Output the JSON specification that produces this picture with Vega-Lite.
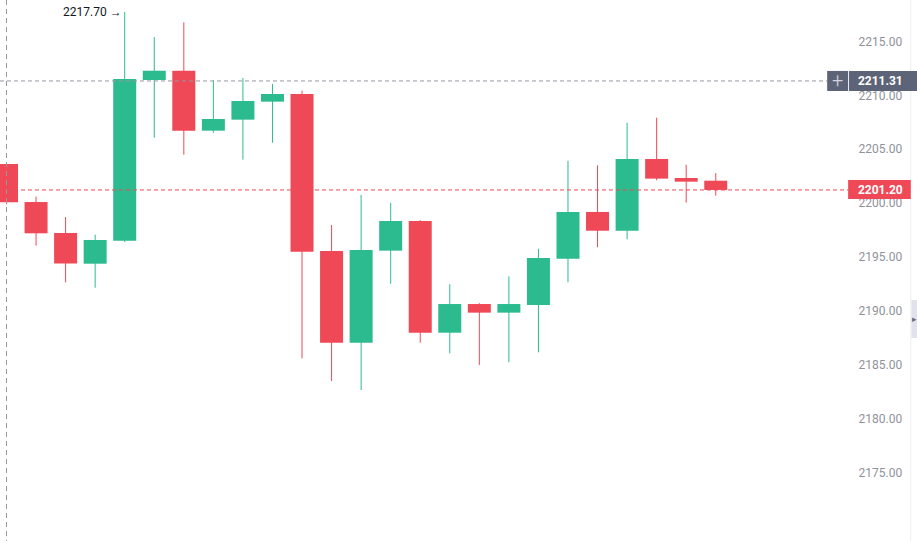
{
  "$schema": "https://vega.github.io/schema/vega-lite/v6.json",
  "width": 917,
  "height": 541,
  "autosize": {"type": "none"},
  "padding": 0,
  "background": "#ffffff",
  "config": {"view": {"stroke": null}, "font": "Roboto"},
  "datasets": {
    "candles": [
      {"idx": 0, "open": 2203.61, "high": 2203.7, "low": 2199.9, "close": 2200.06, "dir": "down"},
      {"idx": 1, "open": 2200.08, "high": 2200.58, "low": 2196.03, "close": 2197.18, "dir": "down"},
      {"idx": 2, "open": 2197.21, "high": 2198.69, "low": 2192.63, "close": 2194.38, "dir": "down"},
      {"idx": 3, "open": 2194.36, "high": 2197.05, "low": 2192.13, "close": 2196.56, "dir": "up"},
      {"idx": 4, "open": 2196.49, "high": 2217.7, "low": 2196.37, "close": 2211.49, "dir": "up"},
      {"idx": 5, "open": 2211.4, "high": 2215.39, "low": 2206.05, "close": 2212.26, "dir": "up"},
      {"idx": 6, "open": 2212.26, "high": 2216.75, "low": 2204.47, "close": 2206.7, "dir": "down"},
      {"idx": 7, "open": 2206.7, "high": 2211.37, "low": 2206.51, "close": 2207.78, "dir": "up"},
      {"idx": 8, "open": 2207.72, "high": 2211.59, "low": 2204.01, "close": 2209.45, "dir": "up"},
      {"idx": 9, "open": 2209.39, "high": 2211.03, "low": 2205.58, "close": 2210.1, "dir": "up"},
      {"idx": 10, "open": 2210.1, "high": 2210.41, "low": 2185.58, "close": 2195.47, "dir": "down"},
      {"idx": 11, "open": 2195.54, "high": 2197.95, "low": 2183.48, "close": 2187.03, "dir": "down"},
      {"idx": 12, "open": 2187.03, "high": 2200.73, "low": 2182.64, "close": 2195.63, "dir": "up"},
      {"idx": 13, "open": 2195.57, "high": 2199.99, "low": 2192.5, "close": 2198.32, "dir": "up"},
      {"idx": 14, "open": 2198.32, "high": 2198.4, "low": 2187.03, "close": 2187.96, "dir": "down"},
      {"idx": 15, "open": 2187.96, "high": 2192.45, "low": 2186.05, "close": 2190.62, "dir": "up"},
      {"idx": 16, "open": 2190.62, "high": 2190.7, "low": 2184.96, "close": 2189.82, "dir": "down"},
      {"idx": 17, "open": 2189.82, "high": 2193.19, "low": 2185.21, "close": 2190.62, "dir": "up"},
      {"idx": 18, "open": 2190.53, "high": 2195.75, "low": 2186.14, "close": 2194.89, "dir": "up"},
      {"idx": 19, "open": 2194.82, "high": 2203.91, "low": 2192.63, "close": 2199.16, "dir": "up"},
      {"idx": 20, "open": 2199.16, "high": 2203.49, "low": 2195.88, "close": 2197.42, "dir": "down"},
      {"idx": 21, "open": 2197.42, "high": 2207.44, "low": 2196.62, "close": 2204.07, "dir": "up"},
      {"idx": 22, "open": 2204.07, "high": 2207.9, "low": 2202.1, "close": 2202.25, "dir": "down"},
      {"idx": 23, "open": 2202.31, "high": 2203.54, "low": 2200.02, "close": 2201.97, "dir": "down"},
      {"idx": 24, "open": 2202.06, "high": 2202.77, "low": 2200.67, "close": 2201.2, "dir": "down"}
    ]
  },
  "resolve": {"scale": {"color": "independent"}},
  "layer": [
    {
      "data": {"values": [{"edge": 1}]},
      "mark": {"type": "rule", "color": "#eceef2", "strokeWidth": 1},
      "encoding": {
        "x": {"datum": 30.6, "type": "quantitative", "scale": {"domain": [-0.22, 30.81], "nice": false, "zero": false, "padding": 0}, "axis": null}
      }
    },
    {
      "data": {"values": [{"edge": 1}]},
      "mark": {"type": "rect", "color": "#e0e3eb"},
      "encoding": {
        "x": {"datum": 30.62, "type": "quantitative"},
        "x2": {"datum": 30.81},
        "y": {"datum": 2190.99, "type": "quantitative"},
        "y2": {"datum": 2187.47}
      }
    },
    {
      "data": {"name": "candles"},
      "mark": {"type": "rule", "strokeWidth": 1},
      "encoding": {
        "x": {"field": "idx", "type": "quantitative"},
        "y": {
          "field": "low", "type": "quantitative",
          "scale": {"domain": [2168.64, 2218.82], "nice": false, "zero": false, "padding": 0},
          "axis": {
            "orient": "right", "offset": -59, "title": null, "grid": false, "domain": false,
            "ticks": false, "tickSize": 0, "labelPadding": 0,
            "values": [2175, 2180, 2185, 2190, 2195, 2200, 2205, 2210, 2215],
            "format": ".2f", "labelFont": "Roboto", "labelFontSize": 12, "labelColor": "#8f929b"
          }
        },
        "y2": {"field": "high"},
        "color": {"field": "dir", "type": "nominal", "scale": {"domain": ["up", "down"], "range": ["#2cbb8e", "#ef4957"]}, "legend": null}
      }
    },
    {
      "data": {"name": "candles"},
      "mark": {"type": "bar", "width": 23},
      "encoding": {
        "x": {"field": "idx", "type": "quantitative"},
        "y": {"field": "open", "type": "quantitative"},
        "y2": {"field": "close"},
        "color": {"field": "dir", "type": "nominal", "scale": {"domain": ["up", "down"], "range": ["#2cbb8e", "#ef4957"]}, "legend": null}
      }
    },
    {
      "data": {"values": [{"idx": 0}]},
      "mark": {"type": "rule", "color": "#9598a1", "strokeWidth": 1, "strokeDash": [5, 4]},
      "encoding": {
        "x": {"field": "idx", "type": "quantitative"}
      }
    },
    {
      "data": {"values": [{"price": 2211.31, "label": "2211.31"}]},
      "layer": [
        {
          "mark": {"type": "rule", "color": "#9598a1", "strokeWidth": 1, "strokeDash": [4, 3]},
          "encoding": {
            "x": {"datum": -0.22, "type": "quantitative"},
            "x2": {"datum": 27.77},
            "y": {"field": "price", "type": "quantitative"}
          }
        },
        {
          "mark": {"type": "rect", "color": "#5d6478"},
          "encoding": {
            "x": {"datum": 27.77, "type": "quantitative"},
            "x2": {"datum": 28.48},
            "y": {"datum": 2212.24, "type": "quantitative"},
            "y2": {"datum": 2210.38}
          }
        },
        {
          "mark": {"type": "rect", "color": "#5d6478"},
          "encoding": {
            "x": {"datum": 28.51, "type": "quantitative"},
            "x2": {"datum": 30.81},
            "y": {"datum": 2212.24, "type": "quantitative"},
            "y2": {"datum": 2210.38}
          }
        },
        {
          "mark": {"type": "text", "text": "+", "color": "#d1d4dc", "fontSize": 20, "fontWeight": 300, "font": "Roboto", "align": "center", "baseline": "middle", "dy": 0},
          "encoding": {
            "x": {"datum": 28.125, "type": "quantitative"},
            "y": {"field": "price", "type": "quantitative"}
          }
        },
        {
          "mark": {"type": "text", "color": "#ffffff", "fontSize": 12, "fontWeight": "bold", "font": "Roboto", "align": "left", "baseline": "middle"},
          "encoding": {
            "x": {"datum": 28.81, "type": "quantitative"},
            "y": {"field": "price", "type": "quantitative"},
            "text": {"field": "label"}
          }
        }
      ]
    },
    {
      "data": {"values": [{"price": 2201.2, "label": "2201.20"}]},
      "layer": [
        {
          "mark": {"type": "rule", "color": "#ef4957", "strokeWidth": 1, "strokeDash": [4, 3]},
          "encoding": {
            "x": {"datum": -0.22, "type": "quantitative"},
            "x2": {"datum": 28.48},
            "y": {"field": "price", "type": "quantitative"}
          }
        },
        {
          "mark": {"type": "rect", "color": "#ef4957"},
          "encoding": {
            "x": {"datum": 28.48, "type": "quantitative"},
            "x2": {"datum": 30.6},
            "y": {"datum": 2202.12, "type": "quantitative"},
            "y2": {"datum": 2200.36}
          }
        },
        {
          "mark": {"type": "text", "color": "#ffffff", "fontSize": 12, "fontWeight": "bold", "font": "Roboto", "align": "left", "baseline": "middle"},
          "encoding": {
            "x": {"datum": 28.81, "type": "quantitative"},
            "y": {"field": "price", "type": "quantitative"},
            "text": {"field": "label"}
          }
        }
      ]
    },
    {
      "data": {"values": [{"idx": 4, "high": 2217.7, "label": "2217.70 →"}]},
      "mark": {"type": "text", "color": "#131722", "fontSize": 12, "font": "Roboto", "align": "right", "baseline": "middle", "dx": -3},
      "encoding": {
        "x": {"field": "idx", "type": "quantitative"},
        "y": {"field": "high", "type": "quantitative"},
        "text": {"field": "label"}
      }
    },
    {
      "data": {"values": [{"arrow": "▸"}]},
      "mark": {"type": "text", "color": "#6a6d78", "fontSize": 9, "align": "center", "baseline": "middle"},
      "encoding": {
        "x": {"datum": 30.72, "type": "quantitative"},
        "y": {"datum": 2189.23, "type": "quantitative"},
        "text": {"field": "arrow"}
      }
    }
  ]
}
